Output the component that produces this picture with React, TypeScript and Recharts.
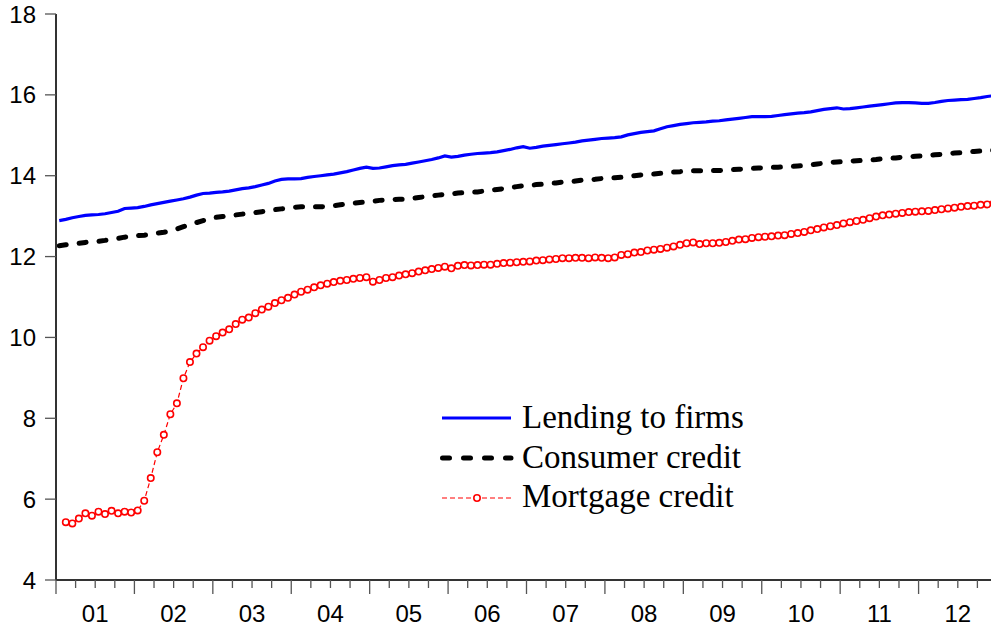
import React from 'react';
import { LineChart, Line, XAxis, YAxis, Legend } from 'recharts';

// monthly observations, 2001M01 - 2012M12
const yearLabels = ['01', '02', '03', '04', '05', '06', '07', '08', '09', '10', '11', '12'];

const lending = [
  12.89, 12.92, 12.96, 12.99, 13.02, 13.03, 13.04, 13.06, 13.09, 13.12, 13.19, 13.2,
  13.21, 13.24, 13.28, 13.31, 13.34, 13.37, 13.4, 13.43, 13.47, 13.52, 13.56, 13.57,
  13.59, 13.6, 13.62, 13.65, 13.68, 13.7, 13.73, 13.77, 13.81, 13.87, 13.91, 13.92,
  13.92, 13.93, 13.96, 13.98, 14.0, 14.02, 14.04, 14.07, 14.1, 14.14, 14.18, 14.21,
  14.18, 14.19, 14.22, 14.25, 14.27, 14.28, 14.31, 14.34, 14.37, 14.4, 14.44, 14.49,
  14.46, 14.48, 14.51, 14.53, 14.55, 14.56, 14.57, 14.59, 14.62, 14.65, 14.69, 14.72,
  14.68, 14.7, 14.73, 14.75, 14.77, 14.79, 14.81, 14.83, 14.86, 14.88, 14.9, 14.92,
  14.93, 14.94, 14.96, 15.01, 15.04, 15.07, 15.09, 15.11, 15.16, 15.21, 15.24, 15.27,
  15.29, 15.31, 15.32, 15.33, 15.35, 15.36, 15.38, 15.4, 15.42, 15.44, 15.46, 15.46,
  15.46, 15.47, 15.49, 15.51, 15.53, 15.55, 15.56, 15.58, 15.61, 15.64, 15.66, 15.68,
  15.65, 15.66, 15.68, 15.7, 15.72, 15.74, 15.76, 15.78, 15.8, 15.81, 15.81, 15.8,
  15.79, 15.79, 15.81, 15.84, 15.86, 15.87, 15.88, 15.89, 15.91, 15.93, 15.96, 15.98,
];

const consumer = [
  12.27, 12.29, 12.31, 12.33, 12.35, 12.37, 12.38, 12.4, 12.43, 12.45, 12.48, 12.5,
  12.52, 12.53, 12.55, 12.58, 12.6, 12.63, 12.68, 12.74, 12.79, 12.84, 12.89, 12.93,
  12.97, 12.99, 13.01, 13.03, 13.05, 13.07, 13.09, 13.11, 13.13, 13.16, 13.18, 13.2,
  13.22, 13.23, 13.23, 13.23, 13.23, 13.24, 13.26, 13.28, 13.3, 13.32, 13.34, 13.35,
  13.37, 13.39, 13.4, 13.41, 13.42, 13.42, 13.44, 13.46, 13.48, 13.5, 13.52, 13.54,
  13.55, 13.57, 13.58, 13.59, 13.6, 13.62, 13.64, 13.66, 13.68, 13.71, 13.73, 13.75,
  13.76, 13.78, 13.79, 13.81, 13.82, 13.84, 13.85, 13.87, 13.89, 13.9, 13.91, 13.93,
  13.94, 13.95, 13.96, 13.98, 14.0, 14.02, 14.03, 14.04, 14.06, 14.07, 14.09, 14.1,
  14.12, 14.12, 14.12, 14.12, 14.13, 14.13, 14.14, 14.15, 14.16, 14.17, 14.18, 14.19,
  14.2, 14.21, 14.21, 14.22, 14.23, 14.24, 14.25, 14.27, 14.29, 14.31, 14.33, 14.34,
  14.35, 14.36, 14.37, 14.38, 14.39, 14.4, 14.42, 14.43, 14.44, 14.46, 14.47, 14.48,
  14.49, 14.5, 14.52, 14.53, 14.55, 14.56, 14.57, 14.59, 14.6, 14.61, 14.62, 14.63,
];

const mortgage = [
  null, 5.43, 5.4, 5.52, 5.65, 5.59, 5.69, 5.63, 5.71, 5.65, 5.69, 5.67,
  5.72, 5.96, 6.52, 7.16, 7.59, 8.1, 8.37, 8.99, 9.39, 9.6, 9.76, 9.92,
  10.03, 10.12, 10.2, 10.33, 10.44, 10.49, 10.6, 10.69, 10.76, 10.85, 10.92, 10.98,
  11.06, 11.13, 11.18, 11.24, 11.29, 11.33, 11.37, 11.4, 11.42, 11.45, 11.47, 11.49,
  11.38, 11.42, 11.47, 11.49, 11.53, 11.56, 11.59, 11.63, 11.66, 11.69, 11.72, 11.75,
  11.71, 11.77, 11.79, 11.78, 11.79, 11.8, 11.8, 11.82, 11.84, 11.85, 11.86, 11.87,
  11.88, 11.9, 11.91, 11.93, 11.94, 11.96, 11.96, 11.97, 11.97, 11.96, 11.98, 11.97,
  11.96, 11.98, 12.04, 12.06, 12.1, 12.11, 12.15, 12.17, 12.19, 12.22, 12.25, 12.29,
  12.33, 12.35, 12.31, 12.33, 12.33, 12.34, 12.36, 12.39, 12.42, 12.43, 12.46, 12.48,
  12.49, 12.5, 12.52, 12.53, 12.56, 12.58, 12.61, 12.65, 12.68, 12.72, 12.75, 12.78,
  12.82, 12.85, 12.88, 12.91, 12.95, 12.99, 13.02, 13.04, 13.06, 13.08, 13.1, 13.11,
  13.12, 13.13, 13.15, 13.17, 13.19, 13.21, 13.23, 13.25, 13.26, 13.28, 13.29, 13.31,
];

const yTicks = [4, 6, 8, 10, 12, 14, 16, 18];

// one point per month, placed at the middle of the month
const data = lending.map((v, i) => ({
  t: i + 0.5,
  lending: v,
  consumer: consumer[i],
  mortgage: mortgage[i],
}));

// quarter boundaries; year boundaries get the long tick, mid-year carries the label
const quarterTicks = Array.from({ length: 49 }, (_, i) => i * 3);

const sans = '"Liberation Sans", Arial, sans-serif';
const serif = '"Liberation Serif", "Times New Roman", serif';

const MonthTick = (props: any) => {
  const { x, y, payload } = props;
  const v = payload.value;
  const major = v % 12 === 0;
  const label = v % 12 === 6 ? yearLabels[(v - 6) / 12] : null;
  return (
    <g>
      <line x1={x} x2={x} y1={y} y2={y + (major ? 14 : 8)} stroke="#555" strokeWidth={1.3} />
      {label && (
        <text x={x} y={y + 42} textAnchor="middle" fontSize={24} fontFamily={sans} fill="#000">
          {label}
        </text>
      )}
    </g>
  );
};

const MortgageDot = (props: any) => {
  const { cx, cy, value } = props;
  if (value == null || cx == null || cy == null) return <g />;
  return <circle cx={cx} cy={cy} r={3.2} stroke="#ff0000" strokeWidth={1.6} fill="#fff" />;
};

const LegendBox = () => (
  <svg width={350} height={125}>
    <line x1={6} x2={75} y1={22} y2={22} stroke="#0000ff" strokeWidth={3.2} />
    <text x={86} y={32} fontSize={33} fontFamily={serif} fill="#000">Lending to firms</text>
    <line x1={6.5} x2={75} y1={62} y2={62} stroke="#000" strokeWidth={5} strokeDasharray="7 14" strokeLinecap="round" />
    <text x={86} y={72} fontSize={33} fontFamily={serif} fill="#000">Consumer credit</text>
    <line x1={6} x2={75} y1={102} y2={102} stroke="#ff0000" strokeWidth={1.2} strokeDasharray="5 3" />
    <circle cx={41} cy={102} r={3.2} stroke="#ff0000" strokeWidth={1.6} fill="#fff" />
    <text x={86} y={111} fontSize={33} fontFamily={serif} fill="#000">Mortgage credit</text>
  </svg>
);

const App = () => {
  return (
    <div style={{ width: 991, height: 632, overflow: 'hidden', position: 'relative', background: '#fff' }}>
      <style>{'body{margin:0;}'}</style>
      <LineChart width={997} height={632} data={data} margin={{ top: 14, right: 0, bottom: 0, left: 0 }}>
        <XAxis
          dataKey="t"
          type="number"
          domain={[0, 144]}
          ticks={quarterTicks}
          interval={0}
          height={52}
          tickSize={0}
          tickMargin={0}
          tickLine={false}
          tick={<MonthTick />}
          axisLine={{ stroke: '#333', strokeWidth: 2 }}
        />
        <XAxis
          xAxisId="top"
          orientation="top"
          type="number"
          domain={[0, 144]}
          height={0}
          tick={false}
          tickLine={false}
          axisLine={{ stroke: '#333', strokeWidth: 2 }}
        />
        <YAxis
          domain={[4, 18]}
          ticks={yTicks}
          width={56}
          tickSize={11}
          tickMargin={9}
          tickLine={{ stroke: '#555', strokeWidth: 1.3 }}
          axisLine={{ stroke: '#333', strokeWidth: 2 }}
          tick={{ fill: '#000', fontSize: 24, fontFamily: sans }}
        />
        <Legend
          layout="vertical"
          align="center"
          verticalAlign="middle"
          content={() => <LegendBox />}
          wrapperStyle={{ left: 436, top: 396, width: 350 }}
        />
        <Line
          dataKey="lending"
          stroke="#0000ff"
          strokeWidth={3.2}
          dot={false}
          isAnimationActive={false}
        />
        <Line
          dataKey="consumer"
          stroke="#000"
          strokeWidth={5}
          strokeDasharray="7 13"
          strokeLinecap="round"
          dot={false}
          isAnimationActive={false}
        />
        <Line
          dataKey="mortgage"
          stroke="#ff0000"
          strokeWidth={1.2}
          strokeDasharray="5 3"
          dot={<MortgageDot />}
          isAnimationActive={false}
        />
      </LineChart>
    </div>
  );
};

export default App;
